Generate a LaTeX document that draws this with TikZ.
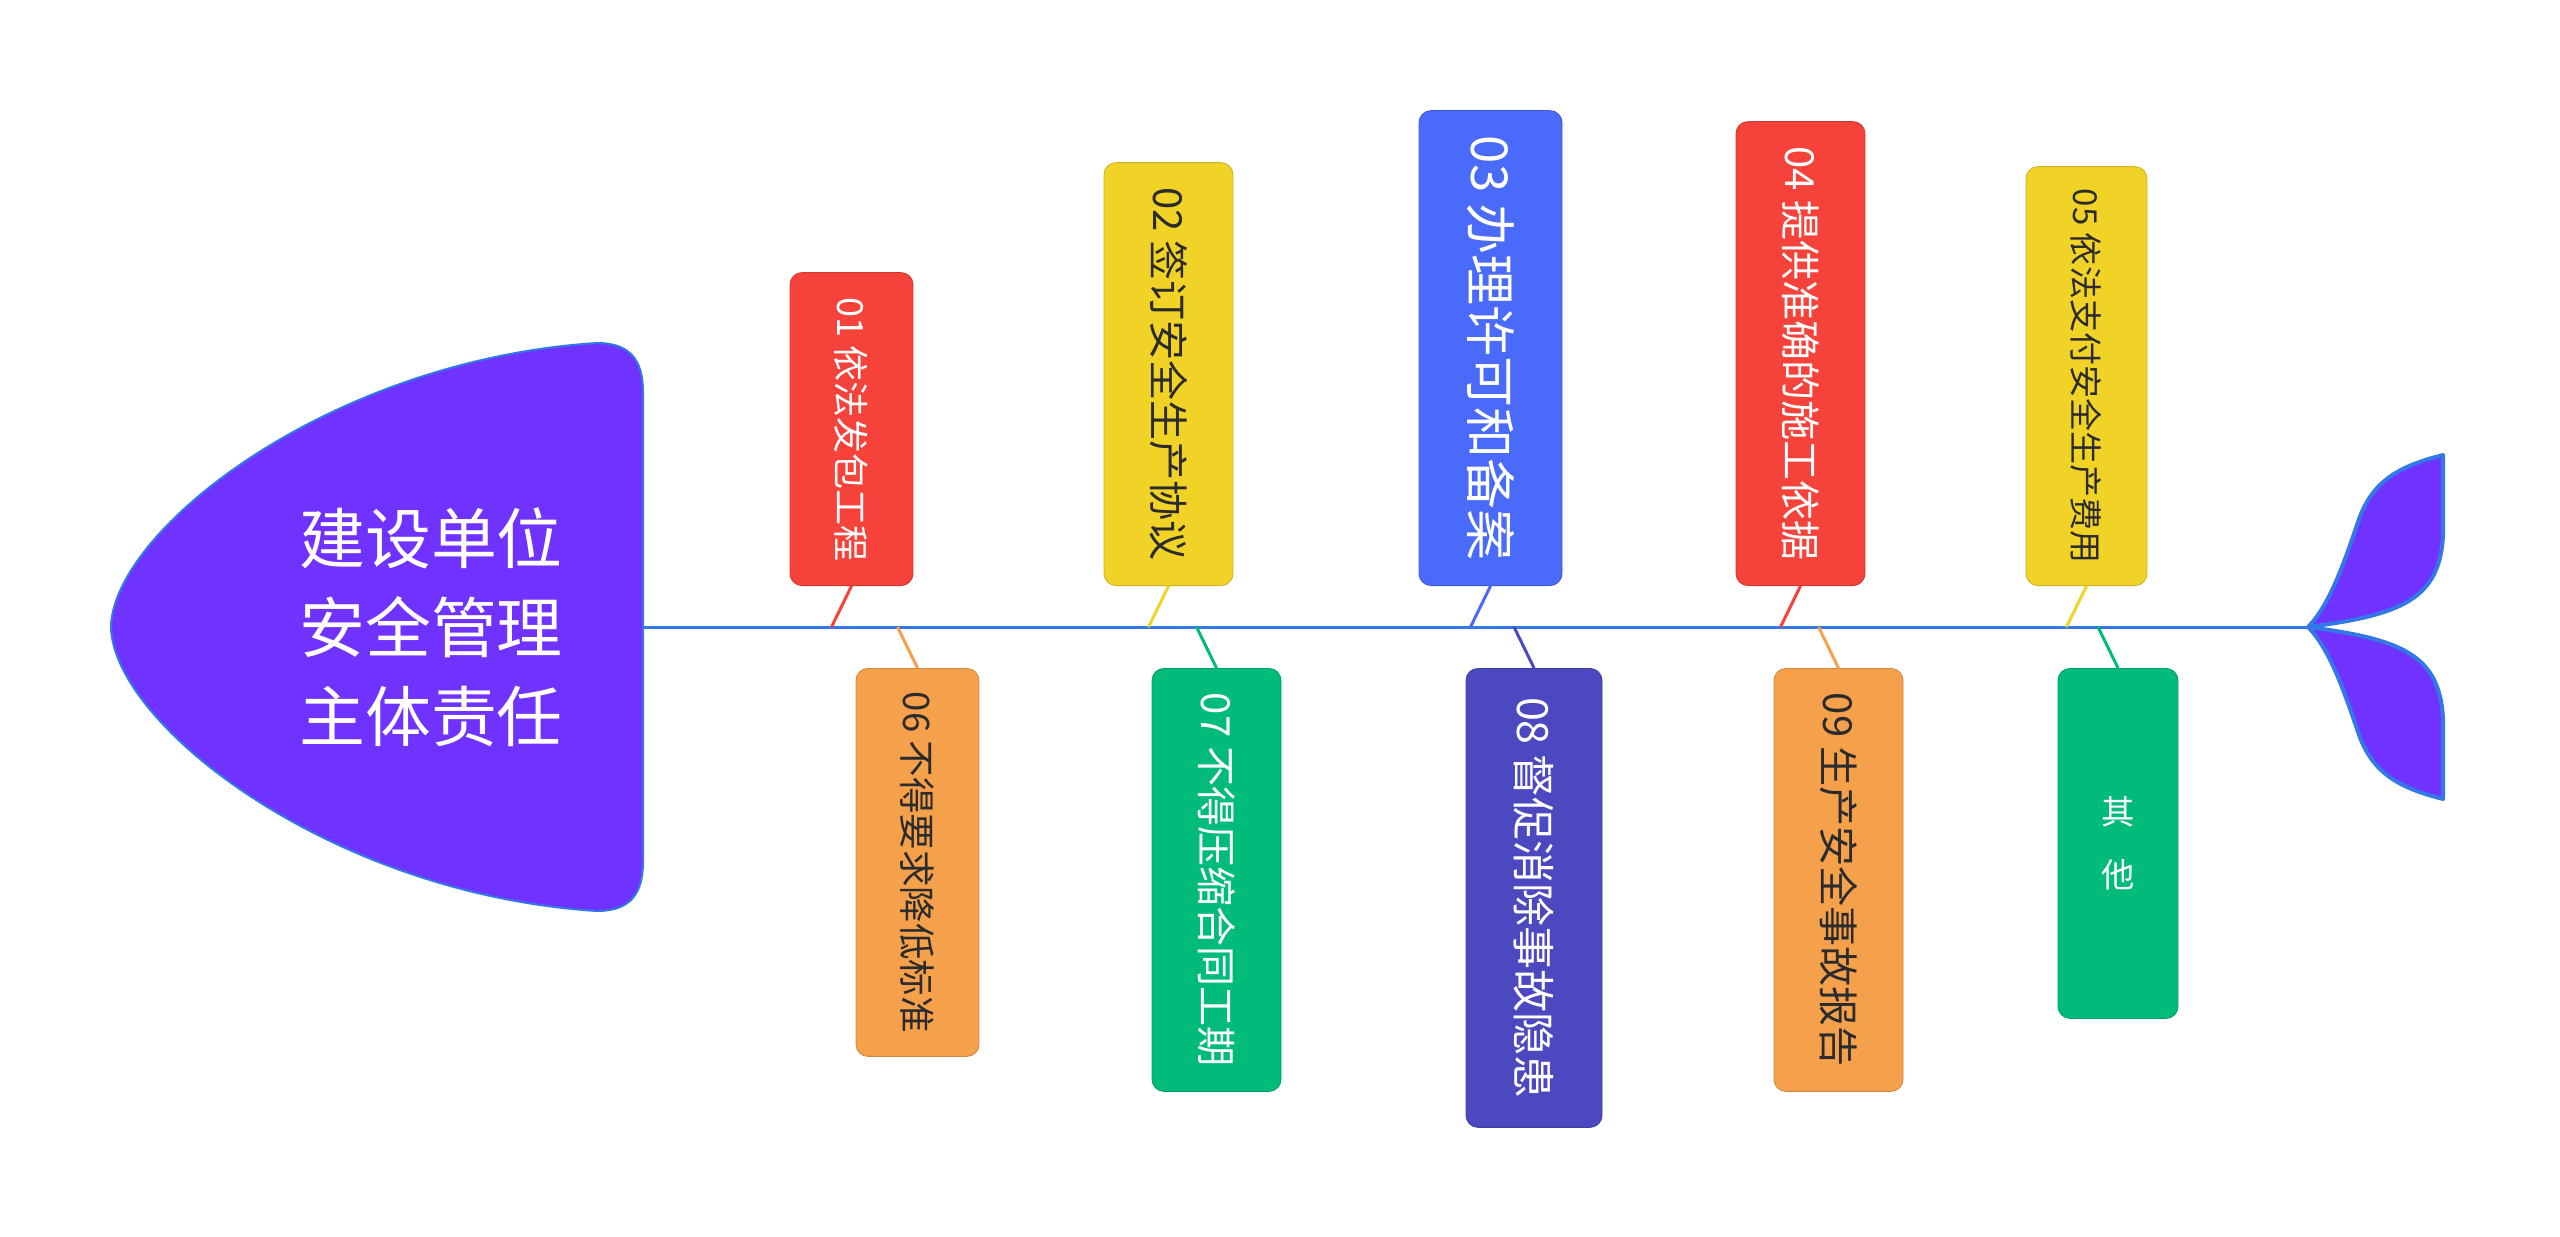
\documentclass[tikz,border=0pt]{standalone}
\usepackage{fontspec}
\newfontfamily\cjk{Noto Sans CJK SC}
\definecolor{headPurple}{HTML}{7033FF}
\definecolor{spineBlue}{HTML}{3378E6}
\definecolor{boneRed}{HTML}{F5423A}
\definecolor{boneYellow}{HTML}{F1D328}
\definecolor{boneBlue}{HTML}{4A6AFA}
\definecolor{boneOrange}{HTML}{F5A04B}
\definecolor{boneGreen}{HTML}{00BB7A}
\definecolor{boneIndigo}{HTML}{4B48C0}
\definecolor{darkText}{HTML}{2B2B2B}

\begin{document}
\begin{tikzpicture}[
        x=0.02cm,
        y=-0.02cm,
        bone/.style={
                rectangle,
                rotate=-90,
                rounded corners=0.24cm,
                draw=#1!85!black,
                fill=#1,
                line width=0.5pt,
                text centered,
                inner sep=0pt,
            },
        link/.style={
                draw=#1,
                line width=0.06cm,
            },
        fin/.style={
                fill=headPurple,
                draw=spineBlue,
                line width=0.08cm,
                line join=round,
            },
        cjksize/.style={font=\cjk\fontsize{#1}{#1}\selectfont}
    ]
    \useasboundingbox (0,0) rectangle (2560,1237);

    % spine
    \coordinate (neck) at (643,627);
    \coordinate (tail) at (2308,627);
    \draw[spineBlue, line width=0.06cm] (neck) -- (tail);

    % points on the spine
    \coordinate (s01) at (831.5,627);
    \coordinate (s02) at (1148.5,627);
    \coordinate (s03) at (1470.5,627);
    \coordinate (s04) at (1780.5,627);
    \coordinate (s05) at (2066.5,627);
    \coordinate (s06) at (897.5,627);
    \coordinate (s07) at (1196.5,627);
    \coordinate (s08) at (1514,627);
    \coordinate (s09) at (1818.5,627);
    \coordinate (s10) at (2098,627);

    % upper bones
    \node[bone=boneRed, text=white, cjksize=20.5, minimum width=6.26cm, minimum height=2.46cm, anchor=east]
        (b01) at (851.5,586) {01 依法发包工程};
    \node[bone=boneYellow, text=darkText, cjksize=22.8, minimum width=8.46cm, minimum height=2.58cm, anchor=east]
        (b02) at (1168.5,586) {02 签订安全生产协议};
    \node[bone=boneBlue, text=white, cjksize=29, minimum width=9.5cm, minimum height=2.86cm, anchor=east]
        (b03) at (1490.5,586) {03 办理许可和备案};
    \node[bone=boneRed, text=white, cjksize=22.8, minimum width=9.28cm, minimum height=2.58cm, anchor=east]
        (b04) at (1800.5,586) {04 提供准确的施工依据};
    \node[bone=boneYellow, text=darkText, cjksize=18.8, minimum width=8.38cm, minimum height=2.42cm, anchor=east]
        (b05) at (2086.5,586) {05 依法支付安全生产费用};

    % lower bones
    \node[bone=boneOrange, text=darkText, cjksize=20.8, minimum width=7.76cm, minimum height=2.46cm, anchor=west]
        (b06) at (917.5,668) {06 不得要求降低标准};
    \node[bone=boneGreen, text=white, cjksize=22.8, minimum width=8.46cm, minimum height=2.58cm, anchor=west]
        (b07) at (1216.5,668) {07 不得压缩合同工期};
    \node[bone=boneIndigo, text=white, cjksize=24.5, minimum width=9.18cm, minimum height=2.72cm, anchor=west]
        (b08) at (1534,668) {08 督促消除事故隐患};
    \node[bone=boneOrange, text=darkText, cjksize=22.8, minimum width=8.46cm, minimum height=2.58cm, anchor=west]
        (b09) at (1838.5,668) {09 生产安全事故报告};
    \node[rectangle, rounded corners=0.24cm, draw=boneGreen!85!black, fill=boneGreen, line width=0.5pt,
        text=white, align=center, font=\cjk\fontsize{19}{36}\selectfont,
        minimum width=2.4cm, minimum height=7cm, anchor=north]
        (b10) at (2118,668) {其\\他};

    \draw[link=boneRed] (b01.east) -- (s01);
    \draw[link=boneYellow] (b02.east) -- (s02);
    \draw[link=boneBlue] (b03.east) -- (s03);
    \draw[link=boneRed] (b04.east) -- (s04);
    \draw[link=boneYellow] (b05.east) -- (s05);
    \draw[link=boneOrange] (s06) -- (b06.west);
    \draw[link=boneGreen] (s07) -- (b07.west);
    \draw[link=boneIndigo] (s08) -- (b08.west);
    \draw[link=boneOrange] (s09) -- (b09.west);
    \draw[link=boneGreen] (s10) -- (b10.north);

    % head
    \draw[fill=headPurple, draw=spineBlue, line width=0.04cm]
        (111,627) .. controls (113,530) and (330,360) .. (597,343)
        .. controls (630,343) and (643,360) .. (643,392)
        -- (643,862)
        .. controls (643,894) and (630,911) .. (597,911)
        .. controls (330,894) and (113,724) .. (111,627) -- cycle;
    \node[text=white, align=center, font=\cjk\fontsize{37.5}{50.6}\selectfont]
        (title) at (431,627) {建设单位\\安全管理\\主体责任};

    % tail
    \draw[fin] (tail) .. controls (2330,605) and (2345,560) .. (2358,522)
        .. controls (2372,480) and (2400,466) .. (2443,455)
        -- (2443,535) .. controls (2440,600) and (2400,615) .. (tail);
    \draw[fin] (tail) .. controls (2330,649) and (2345,694) .. (2358,732)
        .. controls (2372,774) and (2400,788) .. (2443,799)
        -- (2443,719) .. controls (2440,654) and (2400,639) .. (tail);
\end{tikzpicture}
\end{document}
